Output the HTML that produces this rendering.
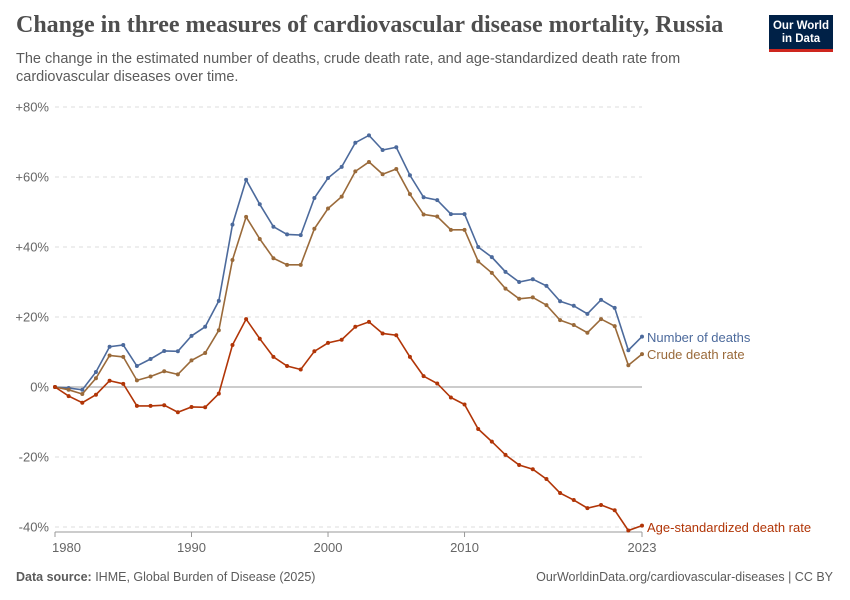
<!DOCTYPE html>
<html><head><meta charset="utf-8"><style>
body{margin:0;background:#fff;font-family:"Liberation Sans",sans-serif;}
#wrap{position:relative;width:850px;height:600px;overflow:hidden;}
h1{position:absolute;left:16px;top:12px;margin:0;font-family:"Liberation Serif",serif;font-size:24px;font-weight:bold;color:#4e4e4e;}
.sub{position:absolute;left:16px;top:50px;width:720px;font-size:14.5px;line-height:18px;color:#5b5b5b;}
.logo{position:absolute;left:769px;top:15px;width:64px;height:37px;background:#002147;border-bottom:3px solid #ce261e;color:#fff;font-size:11.5px;line-height:13px;text-align:center;box-sizing:border-box;padding-top:5px;font-weight:bold;}
.foot{position:absolute;top:570px;font-size:12.5px;color:#5b5b5b;}
</style></head><body><div id="wrap">
<h1>Change in three measures of cardiovascular disease mortality, Russia</h1>
<div class="sub">The change in the estimated number of deaths, crude death rate, and age-standardized death rate from cardiovascular diseases over time.</div>
<div class="logo">Our World<br>in Data</div>
<svg id="chart" width="850" height="600" style="position:absolute;left:0;top:0"></svg>
<div class="foot" style="left:16px"><b>Data source:</b> IHME, Global Burden of Disease (2025)</div>
<div class="foot" style="right:17px">OurWorldinData.org/cardiovascular-diseases | CC BY</div>
</div>
<script>
const years=[];for(let y=1980;y<=2023;y++)years.push(y);
const deaths=[0,-0.3,-0.8,4.3,11.5,12,6,8,10.3,10.2,14.6,17.2,24.6,46.4,59.2,52.2,45.8,43.6,43.4,54,59.7,62.9,69.8,71.9,67.7,68.5,60.5,54.2,53.4,49.4,49.4,40,37.1,32.9,30,30.8,28.9,24.5,23.2,20.9,24.9,22.6,10.5,14.4];
const crude=[0,-0.8,-2,2.5,9,8.6,1.9,3,4.5,3.6,7.6,9.7,16.2,36.3,48.6,42.3,36.8,34.9,34.9,45.2,51,54.4,61.6,64.3,60.8,62.3,55.1,49.3,48.7,44.9,44.9,35.9,32.6,28.1,25.2,25.6,23.4,19.1,17.7,15.5,19.4,17.4,6.2,9.4];
const agestd=[0,-2.6,-4.5,-2.2,1.8,0.9,-5.4,-5.4,-5.2,-7.2,-5.7,-5.8,-1.9,12,19.4,13.8,8.6,6,5,10.2,12.6,13.5,17.2,18.6,15.3,14.8,8.6,3.1,1,-3,-5,-12,-15.6,-19.4,-22.3,-23.5,-26.3,-30.3,-32.3,-34.6,-33.7,-35.2,-41,-39.6];
const yTicks=[80,60,40,20,0,-20,-40];
const yTickLabels=["+80%","+60%","+40%","+20%","0%","-20%","-40%"];
const xTicks=[1980,1990,2000,2010,2023];
const svg=document.getElementById('chart');const NS='http://www.w3.org/2000/svg';
const X=y=>55+(y-1980)*(642-55)/43;
const Y=v=>387-v*3.5;
function el(t,a,p){const e=document.createElementNS(NS,t);for(const k in a)e.setAttribute(k,a[k]);(p||svg).appendChild(e);return e;}
yTicks.forEach((t,i)=>{
 const l=el('line',{x1:55,x2:642,y1:Y(t),y2:Y(t),stroke:t===0?'#999':'#ddd','stroke-dasharray':t===0?'':'4,4'});
 
 
 const tx=el('text',{x:49,y:Y(t)+4.5,'text-anchor':'end','font-size':13,fill:'#666'});tx.textContent=yTickLabels[i];
 
 
});
el('line',{x1:55,x2:642,y1:532,y2:532,stroke:'#999'});
xTicks.forEach((t,i)=>{
 const tk=el('line',{x1:X(t),x2:X(t),y1:532,y2:537,stroke:'#999'});
 const tx=el('text',{x:X(t)+(i===0?-3:0),y:552,'text-anchor':i===0?'start':'middle','font-size':13,fill:'#666'});tx.textContent=t;
 
 
});
const series=[[deaths,'#4c6a9c','Number of deaths','series-number-of-deaths'],[crude,'#9a6a3a','Crude death rate','series-crude-death-rate'],[agestd,'#b13507','Age-standardized death rate','series-age-standardized']];
const labelY=[338,355,528];
series.forEach(([d,c,n,nm],si)=>{
 const g=el('g',{});
 
 
 el('polyline',{points:d.map((v,i)=>X(years[i])+','+Y(v)).join(' '),fill:'none',stroke:c,'stroke-width':1.6},g);
 d.forEach((v,i)=>{const p=el('circle',{cx:X(years[i]),cy:Y(v),r:2,fill:c},g);
  
  });
 const t=el('text',{x:647,y:labelY[si]+4,'font-size':13,fill:c});t.textContent=n;
 
 
});
</script></body></html>
